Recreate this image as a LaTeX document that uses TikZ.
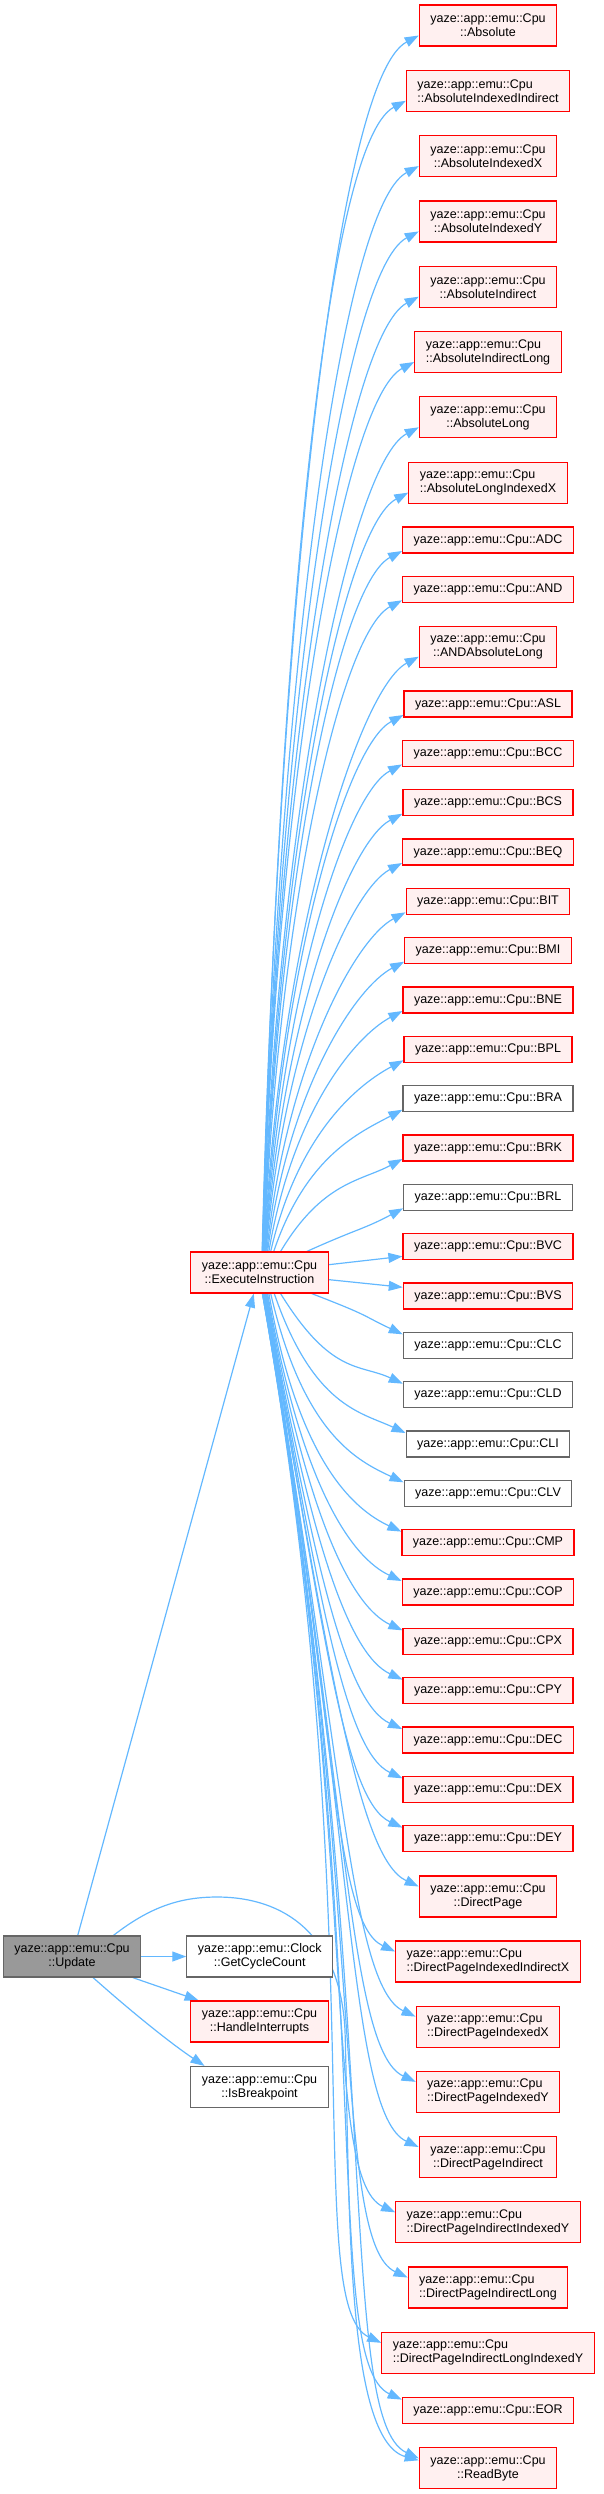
\documentclass[tikz,border=0pt]{standalone}
\usepackage{fontspec}
\setmainfont{Liberation Sans}
\usetikzlibrary{arrows.meta,calc}
\pgfdeclarelayer{bg}
\pgfsetlayers{bg,main}
\definecolor{edgec}{HTML}{63B8FF}
\definecolor{redb}{HTML}{FF0000}
\definecolor{redf}{HTML}{FFF0F0}
\definecolor{grayb}{HTML}{666666}
\definecolor{grayf}{HTML}{999999}
\newcommand\fanedge[3]{%
  \pgfmathsetmacro\FEdy{1272.5-#2}%
  \pgfmathsetmacro\FEsg{\FEdy>0 ? 1 : -1}%
  \pgfmathsetmacro\FEady{abs(\FEdy)}%
  \pgfmathsetmacro\FEal{90-66*(75/\FEady)^0.8}%
  \pgfmathsetmacro\FEphraw{90-66*(75/\FEady)^1.5}%
  \pgfmathsetmacro\FEph{\FEsg>0 ? min(\FEphraw,88.5) : min(\FEphraw,80)}%
  \pgfmathsetmacro\FEsx{259.5+21/tan(\FEal)}%
  \pgfmathsetmacro\FEdist{100*sqrt(((405-\FEsx)/100)^2+((\FEady-21)/100)^2)}%
  \pgfmathsetmacro\FELa{(\FEsg>0 ? 0.5 : 0.6)*\FEdist}%
  \pgfmathsetmacro\FELb{40+0.045*\FEdist}%
  \pgfmathsetmacro\FEarr{\FEsg>0 ? 28 : 25}%
  \pgfmathsetmacro\FEux{\FELa*cos(\FEph)}%
  \pgfmathsetmacro\FEuy{-\FEsg*\FELa*sin(\FEph)}%
  \pgfmathsetmacro\FEvx{-\FELb*cos(\FEarr)}%
  \pgfmathsetmacro\FEvy{\FEsg*\FELb*sin(\FEarr)}%
  \pgfmathtruncatemacro\FEang{\FEsg*\FEal}%
  \pgfmathsetmacro\FEey{\FEsg*#3}%
  \draw[edge] (ei.\FEang) .. controls +(\FEux,\FEuy) and +(\FEvx,\FEvy) .. ($(#1.west)+(0,\FEey)$);
}
\begin{document}
\begin{tikzpicture}[x=1pt,y=-1pt,
  box/.style={draw, line width=1.2pt, font=\fontsize{12.5}{14}\selectfont, inner xsep=11pt, inner ysep=0pt, outer sep=0.6pt},
  one/.style={minimum height=26pt, align=center},
  two/.style={minimum height=41pt, align=center},
  twol/.style={minimum height=41pt, align=left},
  rn/.style={box, draw=redb, fill=redf},
  gn/.style={box, draw=grayb, fill=white},
  edge/.style={draw=edgec, line width=1.2pt, -{Triangle[length=14pt,width=10pt]}}]
\useasboundingbox (0,0) rectangle (603,2494);
% left column
\node[rn,two] (ei) at (259.5,1272.5) {yaze::app::emu::Cpu\\::ExecuteInstruction};
\node[box,two,draw=grayb,fill=grayf] (upd) at (72,1956.5) {yaze::app::emu::Cpu\\::Update};
\node[gn,two] (gcc) at (259.7,1956.5) {yaze::app::emu::Clock\\::GetCycleCount};
\node[rn,two] (hi) at (259.5,2021.5) {yaze::app::emu::Cpu\\::HandleInterrupts};
\node[gn,two] (isb) at (259.5,2087) {yaze::app::emu::Cpu\\::IsBreakpoint};
% right column
\node[rn,two] (n1) at (488,25.5) {yaze::app::emu::Cpu\\::Absolute};
\node[rn,twol] (n2) at (488,90.8) {yaze::app::emu::Cpu\\::AbsoluteIndexedIndirect};
\node[rn,two] (n3) at (488,156.1) {yaze::app::emu::Cpu\\::AbsoluteIndexedX};
\node[rn,two] (n4) at (488,221.4) {yaze::app::emu::Cpu\\::AbsoluteIndexedY};
\node[rn,two] (n5) at (488,286.7) {yaze::app::emu::Cpu\\::AbsoluteIndirect};
\node[rn,twol] (n6) at (488,352.0) {yaze::app::emu::Cpu\\::AbsoluteIndirectLong};
\node[rn,two] (n7) at (488,417.3) {yaze::app::emu::Cpu\\::AbsoluteLong};
\node[rn,twol] (n8) at (488,482.6) {yaze::app::emu::Cpu\\::AbsoluteLongIndexedX};
\node[rn,one] (n9) at (488,540) {yaze::app::emu::Cpu::ADC};
\node[rn,one] (n10) at (488,589.3) {yaze::app::emu::Cpu::AND};
\node[rn,two] (n11) at (488,646.7) {yaze::app::emu::Cpu\\::ANDAbsoluteLong};
\node[rn,one] (n12) at (488,704) {yaze::app::emu::Cpu::ASL};
\node[rn,one] (n13) at (488,753.4) {yaze::app::emu::Cpu::BCC};
\node[rn,one] (n14) at (488,802.7) {yaze::app::emu::Cpu::BCS};
\node[rn,one] (n15) at (488,852) {yaze::app::emu::Cpu::BEQ};
\node[rn,one] (n16) at (488,901.3) {yaze::app::emu::Cpu::BIT};
\node[rn,one] (n17) at (488,950.7) {yaze::app::emu::Cpu::BMI};
\node[rn,one] (n18) at (488,1000) {yaze::app::emu::Cpu::BNE};
\node[rn,one] (n19) at (488,1049.3) {yaze::app::emu::Cpu::BPL};
\node[gn,one] (n20) at (488,1098.7) {yaze::app::emu::Cpu::BRA};
\node[rn,one] (n21) at (488,1148) {yaze::app::emu::Cpu::BRK};
\node[gn,one] (n22) at (488,1197.3) {yaze::app::emu::Cpu::BRL};
\node[rn,one] (n23) at (488,1246.7) {yaze::app::emu::Cpu::BVC};
\node[rn,one] (n24) at (488,1296) {yaze::app::emu::Cpu::BVS};
\node[gn,one] (n25) at (488,1345.3) {yaze::app::emu::Cpu::CLC};
\node[gn,one] (n26) at (488,1394.7) {yaze::app::emu::Cpu::CLD};
\node[gn,one] (n27) at (488,1444) {yaze::app::emu::Cpu::CLI};
\node[gn,one] (n28) at (488,1493.3) {yaze::app::emu::Cpu::CLV};
\node[rn,one] (n29) at (488,1542.6) {yaze::app::emu::Cpu::CMP};
\node[rn,one] (n30) at (488,1592) {yaze::app::emu::Cpu::COP};
\node[rn,one] (n31) at (488,1641.3) {yaze::app::emu::Cpu::CPX};
\node[rn,one] (n32) at (488,1690.6) {yaze::app::emu::Cpu::CPY};
\node[rn,one] (n33) at (488,1740) {yaze::app::emu::Cpu::DEC};
\node[rn,one] (n34) at (488,1789.3) {yaze::app::emu::Cpu::DEX};
\node[rn,one] (n35) at (488,1838.6) {yaze::app::emu::Cpu::DEY};
\node[rn,two] (n36) at (488,1896.5) {yaze::app::emu::Cpu\\::DirectPage};
\node[rn,twol] (n37) at (488,1961.5) {yaze::app::emu::Cpu\\::DirectPageIndexedIndirectX};
\node[rn,twol] (n38) at (488,2026.6) {yaze::app::emu::Cpu\\::DirectPageIndexedX};
\node[rn,twol] (n39) at (488,2091.8) {yaze::app::emu::Cpu\\::DirectPageIndexedY};
\node[rn,two] (n40) at (488,2157) {yaze::app::emu::Cpu\\::DirectPageIndirect};
\node[rn,twol] (n41) at (488,2222.3) {yaze::app::emu::Cpu\\::DirectPageIndirectIndexedY};
\node[rn,twol] (n42) at (488,2287.5) {yaze::app::emu::Cpu\\::DirectPageIndirectLong};
\node[rn,twol] (n43) at (488,2352.8) {yaze::app::emu::Cpu\\::DirectPageIndirectLongIndexedY};
\node[rn,one] (n44) at (488,2410.6) {yaze::app::emu::Cpu::EOR};
\node[rn,two] (n45) at (488,2468.3) {yaze::app::emu::Cpu\\::ReadByte};
\begin{pgfonlayer}{bg}
% fan edges
\foreach \n/\yy/\ee in {n1/25.5/10,n2/90.8/10,n3/156.1/10,n4/221.4/10,n5/286.7/10,n6/352.0/10,n7/417.3/10,n8/482.6/10,
  n9/540/11,n10/589.3/11,n11/646.7/10,n12/704/11,n13/753.4/11,n14/802.7/11,n15/852/11,n16/901.3/11,n17/950.7/11,
  n18/1000/11,n19/1049.3/11,n20/1098.7/11,n21/1148/11,n22/1197.3/11,
  n25/1345.3/11,n26/1394.7/11,n27/1444/11,n28/1493.3/11,n29/1542.6/11,n30/1592/11,n31/1641.3/11,n32/1690.6/11,
  n33/1740/11,n34/1789.3/11,n35/1838.6/11,n36/1896.5/10,n37/1961.5/10,n38/2026.6/10,n39/2091.8/10,n40/2157/10,
  n41/2222.3/10,n42/2287.5/10,n43/2352.8/10,n44/2410.6/11,n45/2468.3/10}{\fanedge{\n}{\yy}{\ee}}
\draw[edge] (ei) -- (n23);
\draw[edge] (ei) -- (n24);
% Update edges
\draw[edge] (upd) -- (ei);
\draw[edge] (upd) -- (gcc);
\draw[edge] (upd) -- (hi);
\draw[edge] (upd.-45) .. controls +(45,40) and +(-30,-20) .. (isb.159);
\draw[edge] (upd.27) .. controls (150,1907) and (180,1897) .. (217,1897)
  .. controls (285,1897) and (340,1935) .. (345,2030)
  .. controls (350,2200) and (345,2440) .. ($(n45.west)+(0,-8)$);
\end{pgfonlayer}
\end{tikzpicture}
\end{document}
